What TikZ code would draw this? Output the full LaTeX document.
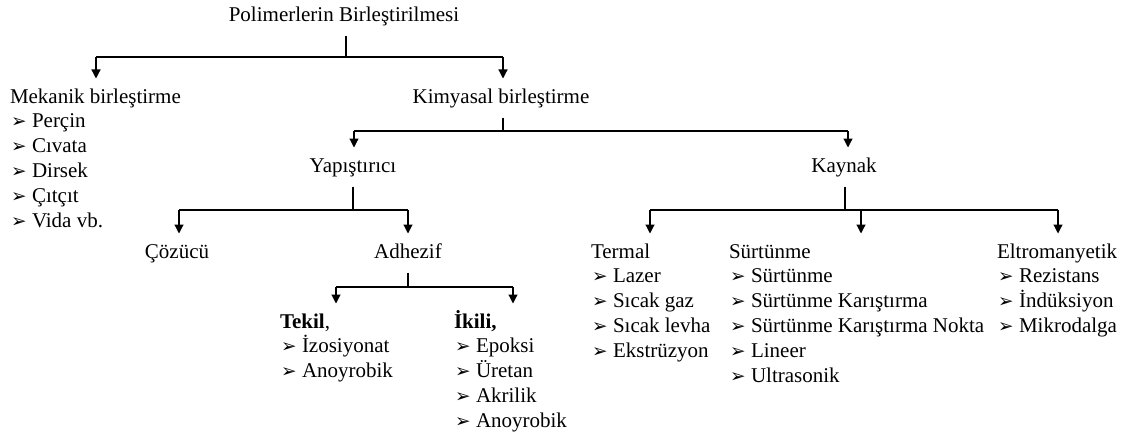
\documentclass[tikz,border=0pt]{standalone}
\usepackage{fontspec}
\setmainfont{Liberation Serif}
\newfontfamily\bulfont{DejaVu Sans}
\usetikzlibrary{arrows.meta}
\newcommand\mybul{\makebox[22pt][l]{\hspace*{1pt}\raisebox{0pt}{\bulfont\fontsize{18.5}{18.5}\selectfont ➢}}}
\begin{document}
\begin{tikzpicture}[x=1pt,y=-1pt,
  lbl/.style={font=\fontsize{21}{25}\selectfont, inner xsep=0pt, inner ysep=0pt,
    outer xsep=0pt, outer ysep=9.5pt, text height=15pt, text depth=5pt, anchor=base},
  hd/.style={lbl, anchor=base west},
  itm/.style={lbl, anchor=base west, outer ysep=0pt},
  conn/.style={line width=1.2pt, draw=black},
  arr/.style={conn, -{Triangle[width=9pt,length=9pt]}}]
\fill[white] (0,0) rectangle (1130,436);
\useasboundingbox (0,0) rectangle (1130,436);

% texts
\node[lbl] (title) at (344,22) {Polimerlerin Birleştirilmesi};
\node[hd] (mek) at (10,103) {Mekanik birleştirme};
\foreach \t [count=\i] in {Perçin,Cıvata,Dirsek,Çıtçıt,Vida vb.}
  \node[itm] (mek\i) at (10,103+24.8*\i) {\mybul\t};
\node[lbl] (kim) at (501,103) {Kimyasal birleştirme};
\node[lbl] (yap) at (353,172) {Yapıştırıcı};
\node[lbl] (kay) at (844,172) {Kaynak};
\node[lbl] (coz) at (177,258) {Çözücü};
\node[lbl] (adh) at (408,258) {Adhezif};
\node[hd] (tek) at (280,328) {\textbf{Tekil},};
\foreach \t [count=\i] in {İzosiyonat,Anoyrobik}
  \node[itm] (tek\i) at (280,328+24.8*\i) {\mybul\t};
\node[hd] (iki) at (454,328) {\textbf{İkili,}};
\foreach \t [count=\i] in {Epoksi,Üretan,Akrilik,Anoyrobik}
  \node[itm] (iki\i) at (454,328+24.8*\i) {\mybul\t};
\node[hd] (ter) at (591,258) {Termal};
\foreach \t [count=\i] in {Lazer,Sıcak gaz,Sıcak levha,Ekstrüzyon}
  \node[itm] (ter\i) at (591,258+24.8*\i) {\mybul\t};
\node[hd] (sur) at (729,258) {Sürtünme};
\foreach \t [count=\i] in {Sürtünme,Sürtünme Karıştırma,Sürtünme Karıştırma Nokta,Lineer,Ultrasonik}
  \node[itm] (sur\i) at (729,258+24.8*\i) {\mybul\t};
\node[hd] (elt) at (997,258) {Eltromanyetik};
\foreach \t [count=\i] in {Rezistans,İndüksiyon,Mikrodalga}
  \node[itm] (elt\i) at (997,258+24.8*\i) {\mybul\t};

% connectors
\coordinate (j0) at (346,57);
\coordinate (a1) at (96,57);
\coordinate (a2) at (503,57);
\draw[conn] (title.south -| j0) -- (j0);
\draw[conn] (a1) -- (a2);
\draw[arr] (a1) -- (a1 |- mek.north);
\draw[arr] (a2) -- (a2 |- kim.north);

\coordinate (j1) at (503,131);
\coordinate (b1) at (354,131);
\coordinate (b2) at (848,131);
\draw[conn] (kim.south -| j1) -- (j1);
\draw[conn] (b1) -- (b2);
\draw[arr] (b1) -- (b1 |- yap.north);
\draw[arr] (b2) -- (b2 |- kay.north);

\coordinate (j2) at (353,210);
\coordinate (c1) at (179,210);
\coordinate (c2) at (408,210);
\draw[conn] (yap.south -| j2) -- (j2);
\draw[conn] (c1) -- (c2);
\draw[arr] (c1) -- (c1 |- coz.north);
\draw[arr] (c2) -- (c2 |- adh.north);

\coordinate (j3) at (408,287);
\coordinate (d1) at (336,287);
\coordinate (d2) at (513,287);
\draw[conn] (adh.south -| j3) -- (j3);
\draw[conn] (d1) -- (d2);
\draw[arr] (d1) -- (d1 |- tek.north);
\draw[arr] (d2) -- (d2 |- iki.north);

\coordinate (j4) at (845,210);
\coordinate (e1) at (650,210);
\coordinate (e2) at (861,210);
\coordinate (e3) at (1058,210);
\draw[conn] (kay.south -| j4) -- (j4);
\draw[conn] (e1) -- (e3);
\draw[arr] (e1) -- (e1 |- ter.north);
\draw[arr] (e2) -- (e2 |- sur.north);
\draw[arr] (e3) -- (e3 |- elt.north);
\end{tikzpicture}
\end{document}
